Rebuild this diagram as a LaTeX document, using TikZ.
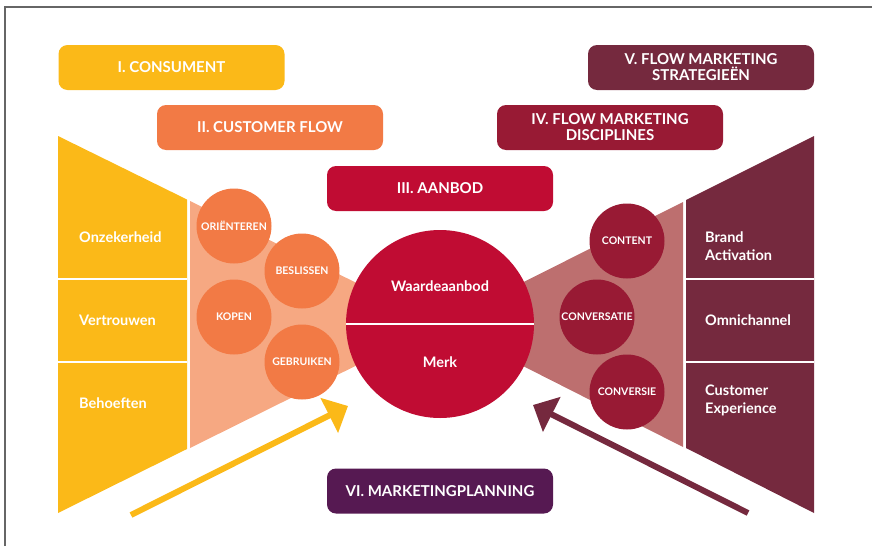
\documentclass[tikz,border=0pt]{standalone}
\usepackage{fontspec}
\setmainfont{Lato}
\usetikzlibrary{arrows.meta,calc,positioning}

\definecolor{geel}{HTML}{FBB918}
\definecolor{oranje}{HTML}{F27A45}
\definecolor{zalm}{HTML}{F6A882}
\definecolor{rood}{HTML}{C00C33}
\definecolor{wijnrood}{HTML}{981A34}
\definecolor{bordeaux}{HTML}{75293E}
\definecolor{roze}{HTML}{BD6F6F}
\definecolor{paars}{HTML}{561952}

\begin{document}
\begin{tikzpicture}[x=1pt,y=-1pt,
    kop/.style={rounded corners=9pt,minimum width=226pt,minimum height=45pt,
      text=white,font=\fontsize{15}{16}\selectfont\bfseries,align=center},
    fase/.style={circle,minimum size=75pt,inner sep=0pt,text=white,
      font=\fontsize{10.5}{12}\selectfont\bfseries},
    vak/.style={anchor=west,inner xsep=0pt,text=white,align=left,
      font=\fontsize{14.5}{18}\selectfont\bfseries},
    pijl/.style={line width=6pt,-{Triangle[length=21pt,width=38pt]}}]
    \useasboundingbox (0,0) rectangle (872,546);
    \draw[gray!80!black,line width=1.5pt] (5,546)--(5,7)--(872,7);

    % funnels
    \coordinate (M) at (440,324);
    \fill[zalm] (190,201)--(M)--(190,448)--cycle;
    \fill[roze] (683,202)--(M)--(683,447)--cycle;
    \fill[geel] (58,136)--(187,199.5)--(187,449)--(58,513)--cycle;
    \fill[bordeaux] (814,136)--(686,200)--(686,448)--(814,513)--cycle;
    \foreach \y in {279,362} {
      \draw[white,line width=2.5pt] (58,\y)--(187,\y);
      \draw[white,line width=2.5pt] (686,\y)--(814,\y);
    }

    % headers
    \node[kop,fill=geel] (consument) at (171.5,67.5) {I. CONSUMENT};
    \node[kop,fill=oranje] (flow) at (270,127.5) {II. CUSTOMER FLOW};
    \node[kop,fill=rood] (aanbod) at (440,188.5) {III. AANBOD};
    \node[kop,fill=wijnrood] (disc) at (610,127.5) {IV. FLOW MARKETING\\DISCIPLINES};
    \node[kop,fill=bordeaux] (strat) at (701,67.5) {V. FLOW MARKETING\\STRATEGIEËN};
    \node[kop,fill=paars] (planning) at (440,491) {VI. MARKETINGPLANNING};

    % left and right columns
    \node[vak] (onzeker) at (79,237) {Onzekerheid};
    \node[vak] (vertrouwen) at (79,320) {Vertrouwen};
    \node[vak] (behoeften) at (79,403) {Behoeften};
    \node[vak] (brand) at (705,246) {Brand\\Activation};
    \node[vak] (omni) at (705,320) {Omnichannel};
    \node[vak] (experience) at (705,400) {Customer\\Experience};

    % customer flow and disciplines
    \node[fase,fill=oranje] (orient) at (234,226) {ORIËNTEREN};
    \node[fase,fill=oranje] (beslis) at (302,271) {BESLISSEN};
    \node[fase,fill=oranje] (kopen) at (234,317) {KOPEN};
    \node[fase,fill=oranje] (gebruik) at (302,362) {GEBRUIKEN};
    \node[fase,fill=wijnrood] (content) at (627,241) {CONTENT};
    \node[fase,fill=wijnrood] (conversatie) at (597,317) {CONVERSATIE};
    \node[fase,fill=wijnrood] (conversie) at (627,392) {CONVERSIE};

    % offer
    \node[circle,fill=rood,minimum size=188pt,inner sep=0pt] (merk) at (M) {};
    \draw[white,line width=2.5pt] (merk.west)--(merk.east);
    \node[text=white,font=\fontsize{14.5}{16}\selectfont\bfseries] (waarde) at (440,286) {Waardeaanbod};
    \node[text=white,font=\fontsize{14.5}{16}\selectfont\bfseries] (merktekst) at (440,362) {Merk};

    % arrows
    \coordinate (links) at (131,515);
    \coordinate (rechts) at (748,513);
    \draw[pijl,geel] (links)--(348,406);
    \draw[pijl,bordeaux] (rechts)--(533,405);
  \end{tikzpicture}
\end{document}
